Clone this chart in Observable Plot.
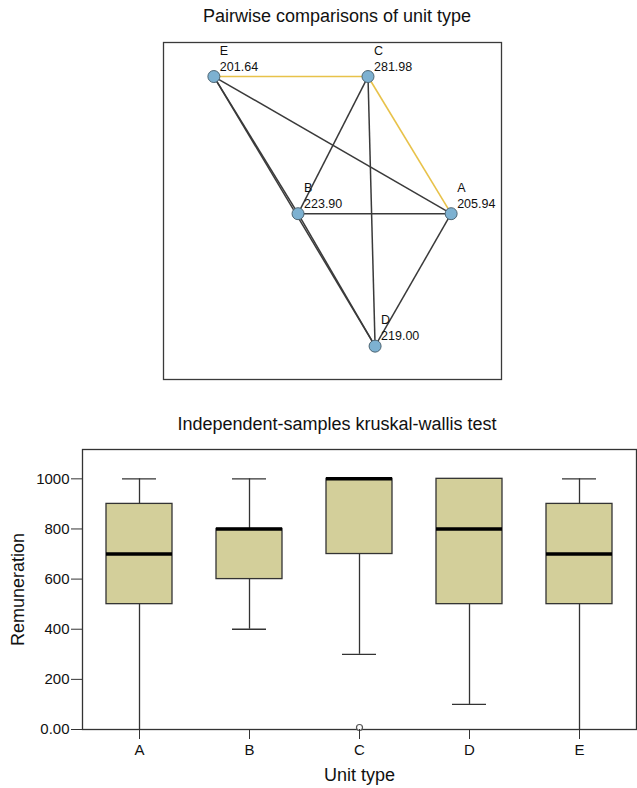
<!DOCTYPE html>
<html>
<head>
<meta charset="utf-8">
<script src="https://cdn.jsdelivr.net/npm/d3@7"></script>
<script src="https://cdn.jsdelivr.net/npm/@observablehq/plot@0.6"></script>
<style>
  html, body { margin: 0; padding: 0; background: #fff; }
  #page { position: relative; width: 637px; height: 788px; font-family: "Liberation Sans", Arial, sans-serif; }
  .title { position: absolute; left: 337px; transform: translateX(-50%); white-space: nowrap; font-size: 18px; line-height: 18px; color: #111; }
  #net { position: absolute; left: 0; top: 30px; }
  #box { position: absolute; left: 0; top: 435px; }
</style>
</head>
<body>
<div id="page">
  <div class="title" style="top:7px">Pairwise comparisons of unit type</div>
  <div id="net"></div>
  <div class="title" style="top:415px">Independent-samples kruskal-wallis test</div>
  <div id="box"></div>
</div>
<script>
// ---- Network (pairwise comparisons) data ----
const units = ["A", "B", "C", "D", "E"];
const meanRank = [205.94, 223.90, 281.98, 219.00, 201.64];
const layoutX = [85.1, 39.8, 60.5, 62.6, 14.9];
const layoutY = [50.8, 50.8, 10.1, 90.1, 10.1];
const pairFrom = ["E", "E", "E", "E", "C", "C", "C", "B", "B", "A"];
const pairTo   = ["C", "A", "B", "D", "B", "D", "A", "A", "D", "D"];
const pairSignificant = [true, false, false, false, false, false, true, false, false, false];

// ---- Box plot data ----
const boxLow    = [0, 400, 300, 100, 0];
const boxQ1     = [500, 600, 700, 500, 500];
const boxMedian = [700, 800, 1000, 800, 700];
const boxQ3     = [900, 800, 1000, 1000, 900];
const boxHigh   = [1000, 1000, 1000, 1000, 1000];
const outlierUnit  = ["C"];
const outlierValue = [0];
const yTicks      = [0, 200, 400, 600, 800, 1000];
const yTickLabels = ["0.00", "200", "400", "600", "800", "1000"];

const FONT = "Liberation Sans, Arial, sans-serif";

// ---- Build network plot ----
const nodes = units.map((u, i) => ({unit: u, x: layoutX[i], y: layoutY[i], rank: meanRank[i]}));
const byUnit = new Map(nodes.map(n => [n.unit, n]));
const edges = pairFrom.map((f, i) => ({from: byUnit.get(f), to: byUnit.get(pairTo[i]), sig: pairSignificant[i]}));

const net = Plot.plot({
  width: 637, height: 360,
  marginLeft: 163, marginRight: 136, marginTop: 12, marginBottom: 11,
  style: {fontFamily: FONT, fontSize: "12.5px", color: "#111", background: "transparent"},
  x: {domain: [0, 100], axis: null},
  y: {domain: [0, 100], reverse: true, axis: null},
  marks: [
    Plot.frame({stroke: "#3a3a3a", strokeWidth: 1.3}),
    Plot.link(edges.filter(e => !e.sig), {
      x1: d => d.from.x, y1: d => d.from.y, x2: d => d.to.x, y2: d => d.to.y,
      stroke: "#3a3a3a", strokeWidth: 1.5
    }),
    Plot.link(edges.filter(e => e.sig), {
      x1: d => d.from.x, y1: d => d.from.y, x2: d => d.to.x, y2: d => d.to.y,
      stroke: "#e8c24a", strokeWidth: 1.6
    }),
    Plot.dot(nodes, {x: "x", y: "y", r: 6, fill: "#7db1d1", stroke: "#4d6573", strokeWidth: 1}),
    Plot.text(nodes, {x: "x", y: "y", text: "unit", dx: 6, dy: -26, textAnchor: "start", fill: "#111"}),
    Plot.text(nodes, {x: "x", y: "y", text: d => d.rank.toFixed(2), dx: 6, dy: -10, textAnchor: "start", fill: "#111"})
  ]
});
document.getElementById("net").appendChild(net);

// ---- Build box plot ----
const boxes = units.map((u, i) => ({unit: u, low: boxLow[i], q1: boxQ1[i], med: boxMedian[i], q3: boxQ3[i], high: boxHigh[i]}));
const outliers = outlierUnit.map((u, i) => ({unit: u, value: outlierValue[i]}));

const box = Plot.plot({
  width: 637, height: 353,
  marginLeft: 82, marginRight: 1, marginTop: 14, marginBottom: 59,
  style: {fontFamily: FONT, fontSize: "15px", color: "#111", background: "transparent"},
  x: {domain: units, paddingInner: 0.4, paddingOuter: 0.2},
  y: {domain: [0, 1117]},
  marks: [
    Plot.ruleX(boxes, {x: "unit", y1: "low", y2: "q1", stroke: "#333", strokeWidth: 1.3}),
    Plot.ruleX(boxes, {x: "unit", y1: "q3", y2: "high", stroke: "#333", strokeWidth: 1.3}),
    Plot.tickY(boxes.filter(d => d.low > 0), {x: "unit", y: "low", insetLeft: 16, insetRight: 16, stroke: "#333", strokeWidth: 1.3}),
    Plot.tickY(boxes, {x: "unit", y: "high", insetLeft: 16, insetRight: 16, stroke: "#333", strokeWidth: 1.3}),
    Plot.barY(boxes, {x: "unit", y1: "q1", y2: "q3", fill: "#d3cf9a", stroke: "#333", strokeWidth: 1.3}),
    Plot.tickY(boxes, {x: "unit", y: "med", stroke: "#000", strokeWidth: 3.5}),
    Plot.frame({stroke: "#333", strokeWidth: 1.3}),
    Plot.dot(outliers, {x: "unit", y: "value", r: 3, dy: -2, stroke: "#555", fill: "white", strokeWidth: 1.2}),
    Plot.axisY({ticks: yTicks, tickFormat: d => yTickLabels[yTicks.indexOf(d)], tickSize: 11, tickPadding: 2, label: null, stroke: "#333", fill: "#111"}),
    Plot.axisX({tickSize: 10, tickPadding: 5, label: null, stroke: "#333", fill: "#111"}),
    Plot.text([0], {frameAnchor: "left", text: () => "Remuneration", rotate: -90, dx: -64, textAnchor: "middle", lineAnchor: "middle", fontSize: 18, fill: "#111"}),
    Plot.text([0], {frameAnchor: "bottom", text: () => "Unit type", dy: 46, textAnchor: "middle", lineAnchor: "middle", fontSize: 18, fill: "#111"})
  ]
});
document.getElementById("box").appendChild(box);
</script>
</body>
</html>
